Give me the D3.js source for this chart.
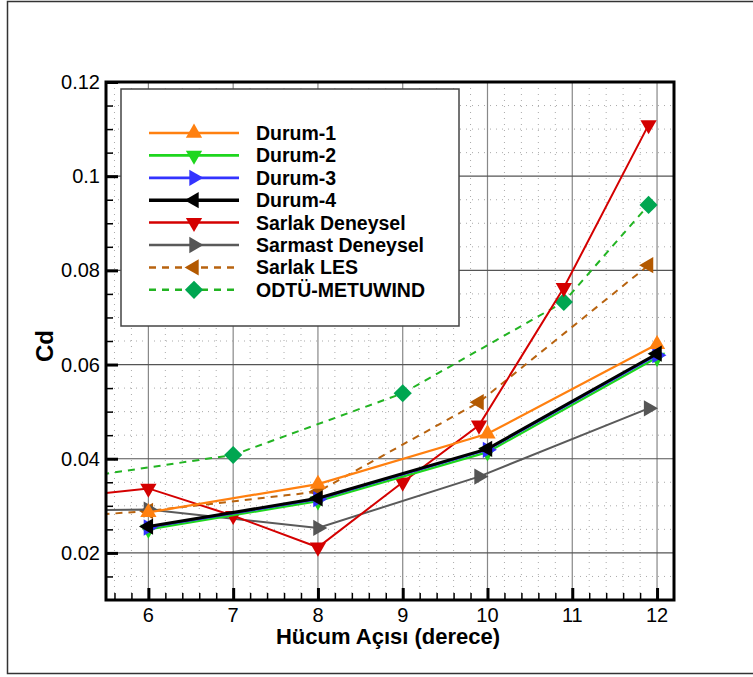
<!DOCTYPE html>
<html>
<head>
<meta charset="utf-8">
<script src="https://cdn.jsdelivr.net/npm/d3@7"></script>
<style>
  body { margin: 0; background: #fff; }
  svg { font-family: "Liberation Sans", Arial, sans-serif; }
</style>
</head>
<body>
<div class="contenedor_grafico"></div>
<script>
// angles (x) and Cd values (y) per series
const durumX = [6, 8, 10, 12];
const durum1 = [0.0286, 0.0346, 0.0453, 0.0643];
const durum2 = [0.0250, 0.0310, 0.0414, 0.0615];
const durum3 = [0.0254, 0.0314, 0.0419, 0.0620];
const durum4 = [0.0256, 0.0316, 0.0421, 0.0623];

const sarlakDenX = [5, 6, 7, 8, 9, 9.9, 10.9, 11.9];
const sarlakDen = [0.0317, 0.0337, 0.0279, 0.0212, 0.0350, 0.0471, 0.0763, 0.1109];

const sarmastX = [5, 6, 8, 9.9, 11.9];
const sarmast = [0.0290, 0.0292, 0.0253, 0.0362, 0.0507];

const lesX = [5, 6, 8, 9.9, 11.9];
const les = [0.0276, 0.0289, 0.0330, 0.0520, 0.0811];

const odtuX = [5, 7, 9, 10.9, 11.9];
const odtu = [0.0355, 0.0408, 0.0539, 0.0733, 0.0939];

const xTicks = [6, 7, 8, 9, 10, 11, 12];
const yTicks = [0.02, 0.04, 0.06, 0.08, 0.1, 0.12];

document.addEventListener("DOMContentLoaded", function () {
  const width = 753;
  const height = 677;
  const left = 106, right = 674, top = 82, bottom = 600;

  const svg = d3
    .select(".contenedor_grafico")
    .append("svg")
    .attr("width", width)
    .attr("height", height);

  // outer frame
  svg
    .append("rect")
    .attr("x", 7.5)
    .attr("y", 1.5)
    .attr("width", 800)
    .attr("height", 672)
    .attr("fill", "none")
    .attr("stroke", "#333")
    .attr("stroke-width", 1.5);

  const xScale = d3.scaleLinear().domain([5.5, 12.2]).range([left, right]);
  const yScale = d3.scaleLinear().domain([0.01, 0.12]).range([bottom, top]);

  const xMinor = d3.range(5.6, 12.2, 0.2).filter((v) => Math.abs(v - Math.round(v)) > 0.01);
  const yMinor = d3.range(0.015, 0.12, 0.005).filter((v) => Math.abs(v / 0.02 - Math.round(v / 0.02)) > 0.01);

  // minor dotted grid
  svg
    .append("g")
    .selectAll("line")
    .data(xMinor)
    .enter()
    .append("line")
    .attr("x1", (d) => xScale(d))
    .attr("x2", (d) => xScale(d))
    .attr("y1", top)
    .attr("y2", bottom)
    .attr("stroke", "#aaa")
    .attr("stroke-dasharray", "1,5");
  svg
    .append("g")
    .selectAll("line")
    .data(yMinor)
    .enter()
    .append("line")
    .attr("y1", (d) => yScale(d))
    .attr("y2", (d) => yScale(d))
    .attr("x1", left)
    .attr("x2", right)
    .attr("stroke", "#aaa")
    .attr("stroke-dasharray", "1,5");

  // major grid
  svg
    .append("g")
    .selectAll("line")
    .data(xTicks)
    .enter()
    .append("line")
    .attr("x1", (d) => xScale(d))
    .attr("x2", (d) => xScale(d))
    .attr("y1", top)
    .attr("y2", bottom)
    .attr("stroke", "#888")
    .attr("stroke-width", 1.2);
  svg
    .append("g")
    .selectAll("line")
    .data(yTicks)
    .enter()
    .append("line")
    .attr("y1", (d) => yScale(d))
    .attr("y2", (d) => yScale(d))
    .attr("x1", left)
    .attr("x2", right)
    .attr("stroke", "#555")
    .attr("stroke-width", 1.2);

  // ticks (inward)
  svg
    .append("g")
    .call(d3.axisTop(xScale).tickValues(xMinor).tickSize(7).tickFormat(""))
    .attr("transform", `translate(0, ${bottom})`)
    .call((g) => g.select(".domain").remove())
    .selectAll("line").attr("stroke-width", 1.5);
  svg
    .append("g")
    .attr("transform", `translate(0, ${bottom})`)
    .call(d3.axisTop(xScale).tickValues(xTicks).tickSize(12).tickFormat(""))
    .call((g) => g.select(".domain").remove())
    .selectAll("line").attr("stroke-width", 3);
  svg
    .append("g")
    .attr("transform", `translate(${left}, 0)`)
    .call(d3.axisRight(yScale).tickValues(yMinor).tickSize(7).tickFormat(""))
    .call((g) => g.select(".domain").remove())
    .selectAll("line").attr("stroke-width", 1.5);
  svg
    .append("g")
    .attr("transform", `translate(${left}, 0)`)
    .call(d3.axisRight(yScale).tickValues(yTicks).tickSize(12).tickFormat(""))
    .call((g) => g.select(".domain").remove())
    .selectAll("line").attr("stroke-width", 3);

  // tick labels
  svg
    .append("g")
    .selectAll("text")
    .data(xTicks)
    .enter()
    .append("text")
    .attr("x", (d) => xScale(d))
    .attr("y", bottom + 22)
    .attr("text-anchor", "middle")
    .attr("font-size", 20)
    .text((d) => d);
  svg
    .append("g")
    .selectAll("text")
    .data(yTicks)
    .enter()
    .append("text")
    .attr("x", left - 6)
    .attr("y", (d) => yScale(d) + 7)
    .attr("text-anchor", "end")
    .attr("font-size", 20)
    .text((d) => d);

  // axis titles
  svg
    .append("text")
    .attr("x", (left + right) / 2 - 2)
    .attr("y", 644)
    .attr("text-anchor", "middle")
    .attr("font-size", 22)
    .attr("font-weight", "bold")
    .text("Hücum Açısı (derece)");
  svg
    .append("text")
    .attr("transform", `translate(53, 346) rotate(-90)`)
    .attr("text-anchor", "middle")
    .attr("font-size", 24)
    .attr("font-weight", "bold")
    .text("Cd");

  svg
    .append("clipPath")
    .attr("id", "clip")
    .append("rect")
    .attr("x", left)
    .attr("y", top)
    .attr("width", right - left)
    .attr("height", bottom - top);

  const tri = d3.symbol().type(d3.symbolTriangle).size(115);
  const dia = d3.symbol().type(d3.symbolSquare).size(165);

  const series = [
    { name: "ODTÜ-METUWIND", xs: odtuX, ys: odtu, color: "#22b422", mColor: "#00a651", dash: "7,6", width: 2, sym: dia, rot: 45 },
    { name: "Sarlak LES", xs: lesX, ys: les, color: "#b8630f", mColor: "#b35900", dash: "7,6", width: 2, sym: tri, rot: -90 },
    { name: "Sarmast Deneysel", xs: sarmastX, ys: sarmast, color: "#5a5a5a", mColor: "#555", dash: null, width: 2, sym: tri, rot: 90 },
    { name: "Sarlak Deneysel", xs: sarlakDenX, ys: sarlakDen, color: "#d40000", mColor: "#d40000", dash: null, width: 2, sym: tri, rot: 180 },
    { name: "Durum-2", xs: durumX, ys: durum2, color: "#1ed61e", mColor: "#1ed61e", dash: null, width: 2.2, sym: tri, rot: 180 },
    { name: "Durum-3", xs: durumX, ys: durum3, color: "#3333ff", mColor: "#3333ff", dash: null, width: 2.2, sym: tri, rot: 90 },
    { name: "Durum-1", xs: durumX, ys: durum1, color: "#ff8010", mColor: "#ff8010", dash: null, width: 2.2, sym: tri, rot: 0 },
    { name: "Durum-4", xs: durumX, ys: durum4, color: "#000", mColor: "#000", dash: null, width: 3, sym: tri, rot: -90 },
  ];

  const line = d3
    .line()
    .x((d) => xScale(d[0]))
    .y((d) => yScale(d[1]));

  const plot = svg.append("g").attr("clip-path", "url(#clip)");
  series.forEach((s) => {
    const pts = s.xs.map((x, i) => [x, s.ys[i]]);
    plot
      .append("path")
      .datum(pts)
      .attr("d", line)
      .attr("fill", "none")
      .attr("stroke", s.color)
      .attr("stroke-width", s.width)
      .attr("stroke-dasharray", s.dash);
    plot
      .append("g")
      .selectAll("path")
      .data(pts)
      .enter()
      .append("path")
      .attr("d", s.sym)
      .attr("transform", (d) => `translate(${xScale(d[0])}, ${yScale(d[1])}) rotate(${s.rot})`)
      .attr("fill", s.mColor);
  });

  // plot frame
  svg
    .append("rect")
    .attr("x", left)
    .attr("y", top)
    .attr("width", right - left)
    .attr("height", bottom - top)
    .attr("fill", "none")
    .attr("stroke", "#000")
    .attr("stroke-width", 3);

  // legend
  const legendOrder = ["Durum-1", "Durum-2", "Durum-3", "Durum-4", "Sarlak Deneysel", "Sarmast Deneysel", "Sarlak LES", "ODTÜ-METUWIND"];
  const legend = svg.append("g");
  legend
    .append("rect")
    .attr("x", 121)
    .attr("y", 89)
    .attr("width", 338)
    .attr("height", 237)
    .attr("fill", "#fff")
    .attr("stroke", "#444")
    .attr("stroke-width", 1.5);
  legendOrder.forEach((name, i) => {
    const s = series.find((d) => d.name === name);
    const y = 133 + i * 22.4;
    legend
      .append("line")
      .attr("x1", 149)
      .attr("x2", 239)
      .attr("y1", y)
      .attr("y2", y)
      .attr("stroke", s.color)
      .attr("stroke-width", s.width + 0.5)
      .attr("stroke-dasharray", s.dash);
    legend
      .append("path")
      .attr("d", s.sym)
      .attr("transform", `translate(194, ${y}) rotate(${s.rot})`)
      .attr("fill", s.mColor);
    legend
      .append("text")
      .attr("x", 256)
      .attr("y", y + 7)
      .attr("font-size", 19.5)
      .attr("font-weight", "bold")
      .text(name);
  });
});
</script>
</body>
</html>
